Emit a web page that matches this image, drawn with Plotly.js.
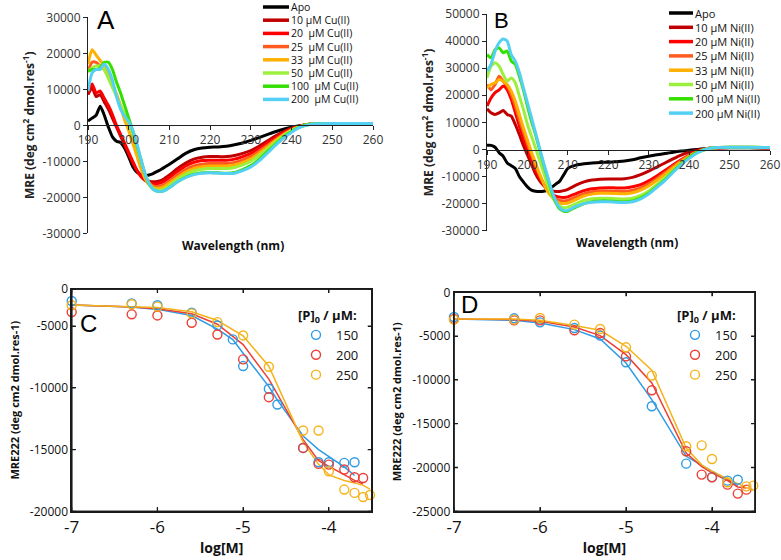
<!DOCTYPE html>
<html>
<head>
<meta charset="utf-8">
<script src="https://cdn.plot.ly/plotly-3.0.1.min.js"></script>
<style>html,body{margin:0;padding:0;background:#fff;}#chart{width:781px;height:560px;}</style>
</head>
<body>
<div id="chart"></div>
<script>
// ---------- Panel A / B : CD spectra ----------
const wavelength = [190,191,192,193,194,195,196,197,198,199,200,201,202,203,204,205,206,207,208,209,210,212,214,216,218,220,222,224,226,228,230,232,234,236,238,240,242,244,246,250,255,260];

const cuLabels = ['Apo','10 μM Cu(II)','20\u00a0 μM Cu(II)','25\u00a0 μM Cu(II)','33\u00a0 μM Cu(II)','50\u00a0 μM Cu(II)','100\u00a0 μM Cu(II)','200\u00a0 μM Cu(II)'];
const niLabels = ['Apo','10 μM Ni(II)','20 μM Ni(II)','25 μM Ni(II)','33 μM Ni(II)','50 μM Ni(II)','100 μM Ni(II)','200 μM Ni(II)'];

const aApo = [1200,2000,2800,5300,2800,-500,-3200,-4400,-4800,-6400, -8800,-11500,-13000,-13700,-14000,-13800,-13400,-12800,-12200,-11500, -10800,-9300,-7800,-6800,-6300,-6100,-6000,-5800,-5400,-4900, -4200,-3400,-2600,-1800,-1100,-500,-100,200,300, 400,400,400];
const a10 = [8500,10500,8000,8500,6500,4500,2000,-500,-3000,-5500, -8000,-10500,-12500,-14000,-15000,-15500,-15700,-15600,-15300,-14600, -13800,-12000,-10500,-9400,-8900,-8700,-8700,-8700,-8400,-7800, -7000,-5800,-4400,-3000,-1800,-800,-200,200,400, 500,500,500];
const a20 = [9000,11500,9000,9500,7500,5500,3000,0,-2500,-5000, -7500,-10000,-12500,-14200,-15300,-16000,-16200,-16200,-15900,-15300, -14500,-12800,-11300,-10300,-9800,-9700,-9700,-9700,-9400,-8700, -7800,-6500,-5000,-3500,-2100,-1000,-300,200,400, 500,500,500];
const a25 = [15000,17500,17500,16500,15500,13500,11000,8500,5500,2500, -500,-4000,-7500,-11000,-14000,-16000,-16800,-17000,-16800,-16300, -15500,-13800,-12300,-11300,-10800,-10600,-10600,-10600,-10300,-9600, -8600,-7200,-5600,-4000,-2500,-1200,-400,200,400, 500,500,500];
const a33 = [17000,21000,19500,18000,16500,14500,11500,8500,5000,1500, -1500,-5000,-8500,-12000,-14800,-16500,-17300,-17500,-17300,-16800, -16000,-14400,-13000,-12000,-11500,-11300,-11300,-11300,-11000,-10300, -9300,-7800,-6100,-4300,-2700,-1300,-400,200,400, 400,400,300];
const a50 = [15000,16000,16500,16500,15500,13000,10500,8000,5500,3000, 500,-2500,-6000,-10000,-13500,-16000,-17500,-18000,-18000,-17500, -16700,-15000,-13600,-12700,-12200,-12000,-12000,-12000,-11700,-11000, -10000,-8400,-6600,-4700,-2900,-1400,-400,200,400, 500,500,500];
const a100 = [15000,15500,15500,16000,17500,17500,15500,12000,9000,5500, 2000,-1500,-5500,-9500,-13500,-16300,-17800,-18300,-18400,-18000, -17300,-15700,-14400,-13600,-13200,-13100,-13200,-13300,-13100,-12300, -11200,-9500,-7400,-5300,-3300,-1700,-500,200,400, 500,500,500];
const a200 = [9500,14500,15500,15500,17000,15500,12500,8000,4500,2500, 1000,-1500,-5000,-9500,-13500,-16200,-17800,-18300,-18400,-18000, -17300,-15700,-14500,-13700,-13300,-13200,-13300,-13400,-13300,-12600, -11600,-9900,-7800,-5600,-3600,-1900,-600,100,400, 500,500,500];

const bApo = [1500,1500,800,-1200,-2500,-5000,-6000,-7000,-10000,-12000, -13800,-15000,-15400,-15500,-15400,-15000,-14000,-12800,-11700,-9300, -7000,-5800,-5300,-5000,-4800,-4700,-4500,-4300,-3800,-3100, -2500,-2000,-1500,-1000,-600,-300,0,300,500, 600,600,500];
const b10 = [15000,13500,12900,13500,14400,12900,12300,9200,5500,1500, -2000,-5500,-9000,-11500,-13300,-14500,-15200,-15500,-15500,-15200, -14700,-13200,-12000,-11300,-11000,-10900,-10900,-10800,-10300,-9300, -8000,-6500,-5000,-3500,-2100,-1000,-300,200,500, 700,700,600];
const b20 = [16000,19000,21000,22000,23400,22000,18500,13600,8600,4000, 0,-4000,-7500,-10500,-13000,-15000,-16300,-17200,-17600,-17700, -17500,-16300,-15200,-14500,-14200,-14100,-14200,-14200,-13800,-13000, -11600,-9800,-7800,-5700,-3800,-2100,-800,100,500, 700,700,600];
const b25 = [24000,22000,24000,27000,25200,23400,20300,16000,11000,6500, 2000,-2000,-6000,-9500,-12500,-15000,-17000,-18200,-18800,-19000, -18800,-17500,-16300,-15600,-15300,-15300,-15400,-15500,-15100,-14200, -12700,-10800,-8600,-6300,-4200,-2300,-900,100,500, 700,700,600];
const b33 = [22800,24000,24600,25800,25200,24000,21500,17800,12900,8000, 3500,-1000,-5000,-9000,-12500,-15500,-17500,-19000,-19800,-20000, -19800,-18500,-17200,-16500,-16200,-16200,-16300,-16400,-16000,-15000, -13500,-11500,-9200,-6800,-4500,-2500,-1000,100,600, 800,800,700];
const b50 = [26400,30700,32000,30700,27700,25200,26400,24600,19700,14800, 9200,4900,500,-4000,-8500,-13000,-17000,-19500,-21000,-21500, -21300,-20000,-18800,-18200,-18000,-18000,-18200,-18300,-18000,-17000, -15300,-13000,-10500,-7800,-5300,-3000,-1200,0,600, 800,800,700];
const b100 = [35000,33800,36900,37500,35700,36300,32600,31400,27000,22000, 16000,10400,5500,0,-5500,-10500,-15500,-19500,-22000,-22800, -22800,-21300,-20000,-19300,-19000,-19000,-19200,-19300,-19000,-18000, -16200,-13700,-11200,-8200,-5400,-3000,-1000,0,600, 800,800,700];
const b200 = [28900,31400,36300,39400,40800,40000,35000,32600,28400,22800, 17300,11800,6200,500,-5000,-10000,-15000,-19000,-21500,-22500, -22500,-21000,-20000,-19500,-19300,-19300,-19500,-19600,-19300,-18300, -16500,-14000,-11500,-8500,-5700,-3300,-1300,0,600, 800,800,700];

const abXTicks = [190,200,210,220,230,240,250,260];
const aYTicks = [30000,20000,10000,0,-10000,-20000,-30000];
const bYTicks = [50000,40000,30000,20000,10000,0,-10000,-20000,-30000];

// ---------- Panel C / D : titrations ----------
const legendLabels = ['150','200','250'];
const cdXTicks = [-7,-6,-5,-4];
const cdXRange = [-7,-3.5];
const cYRange = [-20000,-2000];
const dYRange = [-25000,0];
const cYTicks = [-2000,-5000,-10000,-15000,-20000];
const cYTickText = ['0','-5000','-10000','-15000','-20000'];
const dYTicks = [0,-5000,-10000,-15000,-20000,-25000];

const cLogM150 = [-7,-6.3,-6,-5.6,-5.3,-5.12,-5,-4.7,-4.6,-4.3,-4.12,-4,-3.82,-3.7];
const cMre150  = [-2970,-3160,-3320,-3920,-4950,-6080,-8240,-10080,-11350,-14870,-16030,-16030,-16080,-16030];
const cFit150  = [-3300,-3450,-3650,-4150,-5250,-6100,-7200,-9900,-11000,-13900,-15000,-15540,-16400,-17100];
const cLogM200 = [-7,-6.3,-6,-5.6,-5.3,-5,-4.7,-4.3,-4.12,-4,-3.82,-3.7,-3.6];
const cMre200  = [-3870,-4050,-4140,-4730,-5680,-7700,-10760,-14870,-16160,-16220,-16620,-17240,-17300];
const cFit200  = [-3300,-3450,-3600,-4000,-4850,-6500,-9300,-14200,-15900,-16350,-17000,-17500,-17800];
const cLogM250 = [-7,-6.3,-6,-5.6,-5.3,-5,-4.7,-4.3,-4.12,-4,-3.82,-3.7,-3.6,-3.52];
const cMre250  = [-3320,-3240,-3430,-3970,-4680,-5760,-8300,-13460,-13460,-16760,-18240,-18510,-18840,-18680];
const cFit250  = [-3300,-3400,-3500,-3850,-4550,-5800,-8250,-14400,-16200,-17050,-17500,-17700,-17900,-18200];

const dLogM150 = [-7,-6.3,-6,-5.6,-5.3,-5,-4.7,-4.3,-4,-3.82,-3.7];
const dMre150  = [-2820,-2970,-3430,-4070,-4950,-7990,-13010,-19560,-21100,-21500,-21390];
const dFit150  = [-3040,-3200,-3500,-4260,-5330,-8070,-12250,-18720,-20430,-21400,-22150];
const dLogM200 = [-7,-6.3,-6,-5.6,-5.3,-5,-4.7,-4.3,-4.12,-4,-3.82,-3.7,-3.6];
const dMre200  = [-3040,-3200,-3200,-4340,-4640,-7310,-11190,-18150,-20810,-21120,-21960,-22980,-22530];
const dFit200  = [-3040,-3120,-3310,-3960,-4950,-7120,-10350,-18340,-19900,-20620,-21500,-22220,-22340];
const dLogM250 = [-7,-6.3,-6,-5.6,-5.3,-5,-4.7,-4.3,-4.12,-4,-3.82,-3.6,-3.52];
const dMre250  = [-3120,-3120,-2930,-3690,-4190,-6280,-9510,-17580,-17470,-19030,-21690,-22150,-22070];
const dFit250  = [-3040,-3040,-3200,-3800,-4340,-6160,-8900,-17770,-19700,-20430,-21300,-22300,-22530];

// ---------- styling ----------
const W = 781, H = 560;
const PX = p => p / W;
const PY = p => 1 - p / H;
const specColors = ['#000000','#c00000','#ff0000','#ff5a1f','#ffb000','#9cf03c','#33e000','#55d0f5'];
const titColors = ['#2e9be5','#ec4036','#f5b31a'];
const FONT = 'Open Sans, Liberation Sans, sans-serif';
const tickFontAB = {family: FONT, size: 12, color: '#333'};

const aSeries = [aApo,a10,a20,a25,a33,a50,a100,a200];
const bSeries = [bApo,b10,b20,b25,b33,b50,b100,b200];

const traces = [];
aSeries.forEach((ys, i) => traces.push({x: wavelength, y: ys, xaxis: 'x', yaxis: 'y', type: 'scatter', mode: 'lines',
  name: cuLabels[i], showlegend: false, line: {color: specColors[i], width: 3, shape: 'spline', smoothing: 0.6}}));
bSeries.forEach((ys, i) => traces.push({x: wavelength, y: ys, xaxis: 'x2', yaxis: 'y2', type: 'scatter', mode: 'lines',
  name: niLabels[i], showlegend: false, line: {color: specColors[i], width: 3, shape: 'spline', smoothing: 0.6}}));

// box frame with inward ticks, derived from the axis ranges and tick arrays (one polyline per piece)
function frameTraces(xa, ya, xr, yr, xt, yt, pxW, pxH) {
  const dx = 4 * (xr[1] - xr[0]) / pxW, dy = 4 * (yr[1] - yr[0]) / pxH;
  const out = [];
  const add = (xs, ys) => out.push({x: xs, y: ys, xaxis: xa, yaxis: ya, type: 'scatter', mode: 'lines',
    line: {color: '#1a1a1a', width: 1.3}, showlegend: false, hoverinfo: 'skip', cliponaxis: false});
  add([xr[0], xr[1], xr[1], xr[0], xr[0]], [yr[0], yr[0], yr[1], yr[1], yr[0]]);
  yt.forEach(v => { add([xr[0], xr[0] + dx], [v, v]); add([xr[1] - dx, xr[1]], [v, v]); });
  xt.forEach(v => { add([v, v], [yr[0], yr[0] + dy]); add([v, v], [yr[1] - dy, yr[1]]); });
  return out;
}

const cSets = [[cLogM150,cMre150,cFit150],[cLogM200,cMre200,cFit200],[cLogM250,cMre250,cFit250]];
const dSets = [[dLogM150,dMre150,dFit150],[dLogM200,dMre200,dFit200],[dLogM250,dMre250,dFit250]];
function addTitration(sets, xa, ya, leg) {
  sets.forEach((s, i) => traces.push({x: s[0], y: s[2], xaxis: xa, yaxis: ya, type: 'scatter', mode: 'lines',
    showlegend: false, hoverinfo: 'skip', line: {color: titColors[i], width: 1.5}}));
  sets.forEach((s, i) => traces.push({x: s[0], y: s[1], xaxis: xa, yaxis: ya, type: 'scatter', mode: 'markers',
    name: legendLabels[i], legend: leg, cliponaxis: false,
    marker: {symbol: 'circle-open', size: 9, color: titColors[i], line: {width: 1.4, color: titColors[i]}}}));
}
addTitration(cSets, 'x3', 'y3', 'legend');
addTitration(dSets, 'x4', 'y4', 'legend2');
frameTraces('x3', 'y3', cdXRange, cYRange, cdXTicks, cYTicks, 300, 222.3).forEach(t => traces.push(t));
frameTraces('x4', 'y4', cdXRange, dYRange, cdXTicks, dYTicks, 301, 219).forEach(t => traces.push(t));

function specX(domain, pos) {
  return {domain: domain, range: [190, 260], anchor: 'free', position: pos,
    tickvals: abXTicks, ticktext: abXTicks.map(String), ticks: 'outside', ticklen: 4,
    tickcolor: '#222', showline: true, linecolor: '#222', linewidth: 1,
    showgrid: false, zeroline: false, tickfont: tickFontAB, automargin: false, fixedrange: true};
}
function specY(domain, range, tv, anchor) {
  return {domain: domain, range: range, anchor: anchor,
    tickvals: tv, ticktext: tv.map(String), ticks: 'outside', ticklen: 4, tickcolor: '#222',
    showline: true, linecolor: '#222', linewidth: 1, showgrid: false, zeroline: false,
    tickfont: tickFontAB, automargin: false, fixedrange: true,
    title: {text: '<b>MRE (deg cm<sup>2</sup> dmol.res<sup>-1</sup>)</b>', font: {family: FONT, size: 12, color: '#222'}, standoff: 5}};
}
function titX(domain, anchor) {
  return {domain: domain, range: cdXRange, anchor: anchor, tickvals: cdXTicks, ticktext: cdXTicks.map(String),
    ticks: 'inside', ticklen: 4, tickcolor: '#1a1a1a', mirror: 'allticks', showline: true, linecolor: '#1a1a1a', linewidth: 1.3,
    showgrid: false, zeroline: false,
    tickfont: {family: FONT, size: 17, color: '#111'}, automargin: false, fixedrange: true,
    title: {text: '<b>log[M]</b>', font: {family: FONT, size: 14, color: '#111'}, standoff: 2}};
}
function titY(domain, range, tv, tt, anchor) {
  return {domain: domain, range: range, anchor: anchor, tickvals: tv, ticktext: tt,
    ticks: 'inside', ticklen: 4, tickcolor: '#1a1a1a', mirror: 'allticks', showline: true, linecolor: '#1a1a1a', linewidth: 1.3,
    showgrid: false, zeroline: false,
    tickfont: {family: FONT, size: 12, color: '#111'}, automargin: false, fixedrange: true,
    title: {text: '<b>MRE222 (deg cm2 dmol.res-1)</b>', font: {family: FONT, size: 11, color: '#111'}, standoff: 8}};
}

const shapes = [], annotations = [];
// paper-referenced frame as a further fallback
function paperFrame(l, r, t, b) {
  shapes.push({type: 'rect', xref: 'paper', yref: 'paper', x0: PX(l), x1: PX(r), y0: PY(b), y1: PY(t),
    line: {color: '#1a1a1a', width: 1.3}, fillcolor: 'rgba(0,0,0,0)', layer: 'above'});
}
paperFrame(71.7, 371.7, 289, 511.3);
paperFrame(454, 755, 292.3, 511.3);

function specLegend(labels, lx0, lx1, tx, y0, dy, fs) {
  labels.forEach((t, i) => {
    const yy = PY(y0 + dy * i);
    shapes.push({type: 'line', xref: 'paper', yref: 'paper', x0: PX(lx0), x1: PX(lx1), y0: yy, y1: yy,
      line: {color: specColors[i], width: 3.5}});
    annotations.push({xref: 'paper', yref: 'paper', x: PX(tx), y: yy, xanchor: 'left', yanchor: 'middle',
      text: t, showarrow: false, borderpad: 0, font: {family: FONT, size: fs, color: '#111'}});
  });
}
specLegend(cuLabels, 263, 289, 290, 7, 13.2, 10.5);
specLegend(niLabels, 669, 693, 694, 13, 14.3, 11);

function letter(t, x, y, size) {
  annotations.push({xref: 'paper', yref: 'paper', x: PX(x), y: PY(y), xanchor: 'center', yanchor: 'middle',
    text: t, showarrow: false, font: {family: 'Liberation Sans, Arial, sans-serif', size: size, color: '#000'}});
}
letter('A', 106, 20, 26);
letter('B', 501, 21, 22);
letter('C', 88, 323, 24);
letter('D', 469, 304, 24);
[[233, 245], [627, 242]].forEach(p => annotations.push({xref: 'paper', yref: 'paper', x: PX(p[0]), y: PY(p[1]),
  xanchor: 'center', yanchor: 'middle', text: '<b>Wavelength (nm)</b>', showarrow: false,
  font: {family: FONT, size: 12, color: '#111'}}));

const legendCommon = {font: {family: FONT, size: 13, color: '#111'}, bgcolor: 'rgba(0,0,0,0)',
  xanchor: 'left', yanchor: 'top', tracegroupgap: 0,
  title: {text: '<b>[P]<sub>0</sub> / μM:</b>', font: {family: FONT, size: 13, color: '#111'}}};

const layout = {
  width: W, height: H, margin: {l: 0, r: 0, t: 0, b: 0},
  paper_bgcolor: '#fff', plot_bgcolor: '#fff',
  font: {family: FONT, color: '#111'},
  showlegend: true,
  xaxis: specX([PX(88), PX(373)], PY(125)),
  yaxis: specY([PY(233.3), PY(17.3)], [-30000, 30000], aYTicks, 'x'),
  xaxis2: specX([PX(487), PX(770)], PY(150)),
  yaxis2: specY([PY(230.7), PY(14)], [-30000, 50000], bYTicks, 'x2'),
  xaxis3: titX([PX(71.7), PX(371.7)], 'y3'),
  yaxis3: titY([PY(511.3), PY(289)], cYRange, cYTicks, cYTickText, 'x3'),
  xaxis4: titX([PX(454), PX(755)], 'y4'),
  yaxis4: titY([PY(511.3), PY(292.3)], dYRange, dYTicks, dYTicks.map(String), 'x4'),
  legend: Object.assign({x: PX(296), y: PY(303)}, legendCommon),
  legend2: Object.assign({x: PX(675), y: PY(303)}, legendCommon),
  shapes: shapes, annotations: annotations
};

Plotly.newPlot('chart', traces, layout, {displayModeBar: false, staticPlot: true});
</script>
</body>
</html>
